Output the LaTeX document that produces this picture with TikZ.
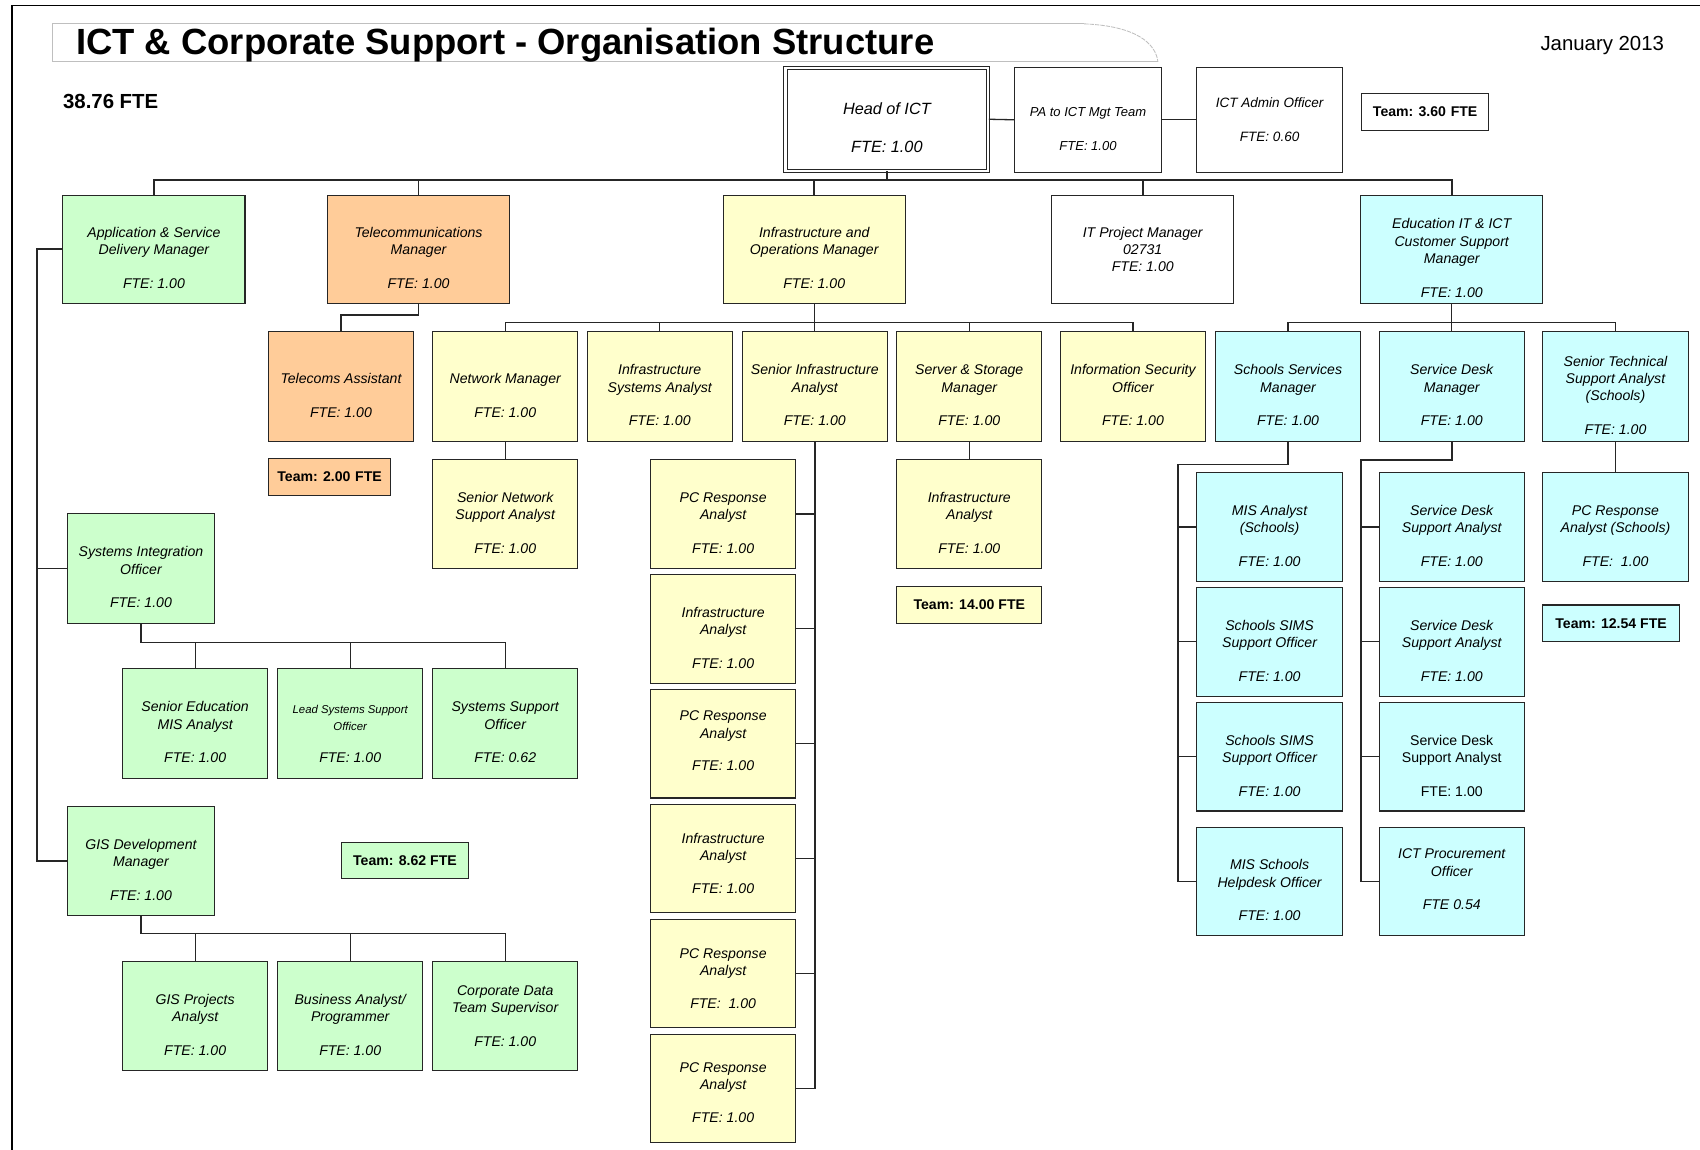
\documentclass[tikz,border=0pt]{standalone}
\usepackage{fontspec}
\setmainfont{Liberation Sans}
\usepackage{xcolor}
\usepackage{tikz}
\usetikzlibrary{positioning}

\definecolor{grn}{HTML}{CCFFCC}
\definecolor{org}{HTML}{FFCC99}
\definecolor{yel}{HTML}{FFFFCC}
\definecolor{cyn}{HTML}{CCFFFF}
\newcommand{\boxfont}{\itshape\fontsize{13}{16}\selectfont}
\newcommand{\smallpost}{\fontsize{10.5}{16}\selectfont}

\begin{document}
\begin{tikzpicture}[x=1pt,y=-1pt,
  every edge/.style={draw,line width=1.2pt,black!85},
  drop/.style={to path={-- ++(0,#1) -| (\tikztotarget)}},
  elbow/.style={to path={|- (\tikztotarget)}},
  side/.style 2 args={to path={-- ++(0,#1) -| ([xshift=-#2]\tikztotarget) |- (\tikztotarget)}},
  trunk/.style={to path={-| ([xshift=-#1]\tikztotarget) |- (\tikztotarget)}}]
  % text height pushes the lines a little below the box centre
  \tikzstyle{post}=[draw=black!85,line width=1pt,align=center,font=\boxfont,
    minimum width=134pt,minimum height=101pt,inner sep=1pt,text height=72.5pt]
  \tikzstyle{short}=[text height=56.5pt]
  \tikzstyle{long}=[text height=88.5pt]
  \tikzstyle{mgr}=[post,minimum width=168pt,minimum height=100pt]
  \tikzstyle{team}=[draw=black!85,line width=1pt,font=\bfseries\fontsize{13}{16}\selectfont,
    minimum height=34pt,inner sep=0pt]

  \useasboundingbox (0,0) rectangle (1568,1060);
  \draw[line width=1.5pt] (11,1065) -- (11,5) -- (1575,5);

  % title
  \draw[black!25,line width=0.8pt] (1068,57) -- (48,57) -- (48,22) -- (1000,22);
  \draw[black!25,line width=0.8pt,dash pattern=on 4pt off 1pt] (1000,22) .. controls (1048,24) and (1066,40) .. (1068,57);
  \node[anchor=base west,inner sep=0pt,font=\bfseries\fontsize{33.6}{40}\selectfont] (title) at (70,50) {ICT \& Corporate Support - Organisation Structure};
  \node[anchor=base west,inner sep=0pt,font=\bfseries\fontsize{18.8}{22}\selectfont] (total) at (58,100) {38.76 FTE};
  \node[anchor=base east,inner sep=0pt,font=\fontsize{18.8}{22}\selectfont] (date) at (1535,47) {January 2013};

  % top
  \node[post,double,double distance=2pt,minimum width=187pt,minimum height=95pt,text height=62pt,
    font=\itshape\fontsize{15}{18}\selectfont] (head) at (818,110) {Head of ICT\\[17pt]FTE: 1.00};
  \node[post,minimum width=135pt,minimum height=97pt,text height=56pt,font=\itshape\fontsize{12}{16}\selectfont] (pa) at (1003.5,110.5) {PA to ICT Mgt Team\\[15pt]FTE: 1.00};
  \node[post,minimum height=97pt,font=\itshape\fontsize{12.5}{16}\selectfont,text height=41pt] (adm) at (1171,110.5) {ICT Admin Officer\\[16pt]FTE: 0.60};
  \node[team,minimum width=117pt] (team0) at (1314.5,103) {Team: 3.60\,\,FTE};

  % managers
  \node[mgr,fill=grn] (app) at (142,230) {Application \& Service\\Delivery Manager\\[15pt]FTE: 1.00};
  \node[mgr,fill=org] (tel) at (386,230) {Telecommunications\\Manager\\[15pt]FTE: 1.00};
  \node[mgr,fill=yel] (inf) at (751,230) {Infrastructure and\\Operations Manager\\[15pt]FTE: 1.00};
  \node[mgr,text height=41.5pt] (itpm) at (1054,230) {IT Project Manager\\02731\\FTE: 1.00};
  \node[mgr,long,fill=cyn] (edu) at (1339,230) {Education IT \& ICT\\Customer Support\\Manager\\[15pt]FTE: 1.00};

  % telecoms
  \node[post,short,fill=org,minimum width=133pt] (tas) at (314.5,356.5) {Telecoms Assistant\\[15pt]FTE: 1.00};
  \node[team,fill=org,minimum width=112pt] (team2) at (304,440) {Team: 2.00\,\,FTE};

  % infrastructure
  \node[post,short,fill=yel] (net) at (466,356.5) {Network Manager\\[15pt]FTE: 1.00};
  \node[post,fill=yel] (isa) at (608.5,356.5) {Infrastructure\\Systems Analyst\\[15pt]FTE: 1.00};
  \node[post,fill=yel] (sia) at (751.5,356.5) {Senior Infrastructure\\Analyst\\[15pt]FTE: 1.00};
  \node[post,fill=yel] (ssm) at (894,356.5) {Server \& Storage\\Manager\\[15pt]FTE: 1.00};
  \node[post,fill=yel] (iso) at (1045,356.5) {Information Security\\Officer\\[15pt]FTE: 1.00};
  \node[post,fill=yel,minimum height=100pt] (snsa) at (466,474) {Senior Network\\Support Analyst\\[15pt]FTE: 1.00};
  \node[post,fill=yel,minimum height=100pt] (infa) at (894,474) {Infrastructure\\Analyst\\[15pt]FTE: 1.00};
  \node[team,fill=yel,minimum width=134pt] (team14) at (894,558) {Team: 14.00 FTE};

  \node[post,fill=yel,minimum height=100pt] (pc1) at (667,474) {PC Response\\Analyst\\[15pt]FTE: 1.00};
  \node[post,fill=yel,minimum height=100pt] (pc2) [below=5pt of pc1] {Infrastructure\\Analyst\\[15pt]FTE: 1.00};
  \node[post,fill=yel,minimum height=100pt,text height=50pt] (pc3) [below=5pt of pc2] {PC Response\\Analyst\\[14pt]FTE: 1.00};
  \node[post,fill=yel,minimum height=100pt,text height=64pt] (pc4) [below=5pt of pc3] {Infrastructure\\Analyst\\[14pt]FTE: 1.00};
  \node[post,fill=yel,minimum height=100pt,text height=64pt] (pc5) [below=5pt of pc4] {PC Response\\Analyst\\[14pt]FTE:\ \ 1.00};
  \node[post,fill=yel,minimum height=100pt,text height=62pt] (pc6) [below=5pt of pc5] {PC Response\\Analyst\\[14pt]FTE: 1.00};

  % education
  \node[post,fill=cyn] (ssvm) at (1188,356.5) {Schools Services\\Manager\\[15pt]FTE: 1.00};
  \node[post,fill=cyn] (sdm) at (1339,356.5) {Service Desk\\Manager\\[15pt]FTE: 1.00};
  \node[post,long,fill=cyn] (sta) at (1490,356.5) {Senior Technical\\Support Analyst\\(Schools)\\[15pt]FTE: 1.00};
  \node[post,fill=cyn,minimum height=100pt] (pta) at (1490,486) {PC Response\\Analyst (Schools)\\[15pt]FTE:\ \ 1.00};
  \node[team,fill=cyn,minimum width=126pt] (team12) at (1486,575) {Team: 12.54 FTE};

  \node[post,fill=cyn,minimum height=100pt] (mis) at (1171,486) {MIS Analyst\\(Schools)\\[15pt]FTE: 1.00};
  \node[post,fill=cyn,minimum height=100pt] (sims1) [below=5pt of mis] {Schools SIMS\\Support Officer\\[15pt]FTE: 1.00};
  \node[post,fill=cyn,minimum height=100pt] (sims2) [below=5pt of sims1] {Schools SIMS\\Support Officer\\[15pt]FTE: 1.00};
  \node[post,fill=cyn,minimum height=100pt] (mish) [below=14pt of sims2] {MIS Schools\\Helpdesk Officer\\[15pt]FTE: 1.00};

  \node[post,fill=cyn,minimum height=100pt] (sdsa1) at (1339,486) {Service Desk\\Support Analyst\\[15pt]FTE: 1.00};
  \node[post,fill=cyn,minimum height=100pt] (sdsa2) [below=5pt of sdsa1] {Service Desk\\Support Analyst\\[15pt]FTE: 1.00};
  \node[post,fill=cyn,minimum height=100pt,font=\fontsize{13}{16}\selectfont] (sdsa3) [below=5pt of sdsa2] {Service Desk\\Support Analyst\\[15pt]FTE: 1.00};
  \node[post,fill=cyn,minimum height=100pt,text height=52.5pt] (proc) [below=14pt of sdsa3] {ICT Procurement\\Officer\\[15pt]FTE 0.54};

  % applications
  \node[post,fill=grn,minimum width=135pt] (sio) at (130,524.5) {Systems Integration\\Officer\\[15pt]FTE: 1.00};
  \node[post,fill=grn] (sem) at (180,667.5) {Senior Education\\MIS Analyst\\[15pt]FTE: 1.00};
  \node[post,fill=grn] (lss) at (323,667.5) {{\smallpost Lead Systems Support}\\{\smallpost Officer}\\[14pt]FTE: 1.00};
  \node[post,fill=grn] (sso) at (466,667.5) {Systems Support\\Officer\\[15pt]FTE: 0.62};
  \node[post,fill=grn,minimum width=135pt] (gis) at (130,794) {GIS Development\\Manager\\[15pt]FTE: 1.00};
  \node[team,fill=grn,minimum width=117pt,minimum height=33pt] (team8) at (373.5,793.5) {Team: 8.62 FTE};
  \node[post,fill=grn,minimum height=100pt] (gpa) at (180,937) {GIS Projects\\Analyst\\[15pt]FTE: 1.00};
  \node[post,fill=grn,minimum height=100pt] (bap) at (323,937) {Business Analyst/\\Programmer\\[15pt]FTE: 1.00};
  \node[post,fill=grn,minimum height=100pt,text height=56.5pt] (cdt) at (466,937) {Corporate Data\\Team Supervisor\\[15pt]FTE: 1.00};

  % reporting lines
  \path (head.east) edge (pa.west)
        (pa.east) edge (adm.west);
  \path (head.south) edge[drop=8,line width=1.8pt] (app.north)
                     edge[drop=8,line width=1.8pt] (tel.north)
                     edge[drop=8,line width=1.8pt] (inf.north)
                     edge[drop=8,line width=1.8pt] (itpm.north)
                     edge[drop=8,line width=1.8pt] (edu.north);
  \path (tel.south) edge[drop=10] (tas.north);
  \path (inf.south) edge[drop=17] (net.north)
                    edge[drop=17] (isa.north)
                    edge[drop=17] (sia.north)
                    edge[drop=17] (ssm.north)
                    edge[drop=17] (iso.north);
  \path (net) edge (snsa)
        (ssm) edge (infa)
        (sta) edge (pta);
  \path (sia.south) edge[elbow] (pc1.east)
                    edge[elbow] (pc2.east)
                    edge[elbow] (pc3.east)
                    edge[elbow] (pc4.east)
                    edge[elbow] (pc5.east)
                    edge[elbow,line width=1.6pt] (pc6.east);
  \path (edu.south) edge[drop=17] (ssvm.north)
                    edge[drop=17] (sdm.north)
                    edge[drop=17] (sta.north);
  \path (ssvm.south) edge[side={21}{17pt}] (mis.west)
                     edge[side={21}{17pt}] (sims1.west)
                     edge[side={21}{17pt}] (sims2.west)
                     edge[side={21}{17pt},line width=1.6pt] (mish.west);
  \path (sdm.south) edge[side={17}{16pt}] (sdsa1.west)
                    edge[side={17}{16pt}] (sdsa2.west)
                    edge[side={17}{16pt}] (sdsa3.west)
                    edge[side={17}{16pt},line width=1.6pt] (proc.west);
  \path (app.west) edge[trunk=28pt] (sio.west)
                   edge[trunk=28pt,line width=1.6pt] (gis.west);
  \path (sio.south) edge[drop=17] (sem.north)
                    edge[drop=17] (lss.north)
                    edge[drop=17] (sso.north);
  \path (gis.south) edge[drop=16] (gpa.north)
                    edge[drop=16] (bap.north)
                    edge[drop=16] (cdt.north);
\end{tikzpicture}
\end{document}
